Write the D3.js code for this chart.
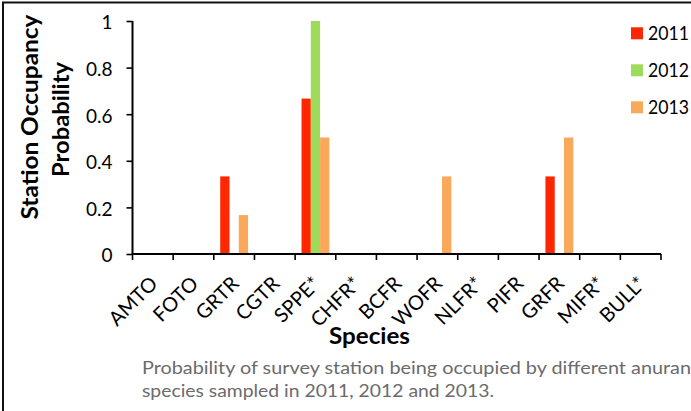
<!DOCTYPE html>
<html>
<head>
<meta charset="utf-8">
<script src="https://cdn.jsdelivr.net/npm/d3@7"></script>
<style>
  body { margin: 0; background: #fff; }
  svg { display: block; font-family: Lato, "Open Sans", sans-serif; }
</style>
</head>
<body>
<div id="chart"></div>
<script>
// data
const species = ["AMTO", "FOTO", "GRTR", "CGTR", "SPPE*", "CHFR*", "BCFR", "WOFR", "NLFR*", "PIFR", "GRFR", "MIFR*", "BULL*"];
const years = ["2011", "2012", "2013"];
const occ2011 = [0, 0, 0.333, 0, 0.667, 0, 0, 0, 0, 0, 0.333, 0, 0];
const occ2012 = [0, 0, 0, 0, 1, 0, 0, 0, 0, 0, 0, 0, 0];
const occ2013 = [0, 0, 0.167, 0, 0.5, 0, 0, 0.333, 0, 0, 0.5, 0, 0];
const yTicks = [0, 0.2, 0.4, 0.6, 0.8, 1];
const captionLines = [
  "Probability of survey station being occupied by different anuran",
  "species sampled in 2011, 2012 and 2013."
];

const series = [occ2011, occ2012, occ2013];
const colors = ["#FF2600", "#9FDB5B", "#FAA85A"];

const width = 691, height = 411;
const marginLeft = 132.5, marginRight = 30, marginTop = 21, axisY = 254;

const svg = d3.select("#chart").append("svg")
  .attr("width", width)
  .attr("height", height);

// frame around the figure
svg.append("rect")
  .attr("x", 3).attr("y", 2.5)
  .attr("width", width + 20).attr("height", height + 20)
  .attr("fill", "none")
  .attr("stroke", "#111")
  .attr("stroke-width", 2);

const x = d3.scaleBand()
  .domain(species)
  .range([marginLeft, width - marginRight]);

const xYear = d3.scaleBand()
  .domain(years)
  .range([0, x.bandwidth()])
  .paddingOuter(0.69);

const y = d3.scaleLinear()
  .domain([0, 1])
  .range([axisY, marginTop]);

// bars
svg.append("g")
  .selectAll("g")
  .data(series)
  .join("g")
    .attr("fill", (d, i) => colors[i])
    .attr("transform", (d, i) => `translate(${xYear(years[i])},0)`)
  .selectAll("rect")
  .data(d => d.map((v, j) => ({ sp: species[j], v })))
  .join("rect")
    .attr("x", d => x(d.sp))
    .attr("y", d => y(d.v))
    .attr("width", xYear.bandwidth())
    .attr("height", d => y(0) - y(d.v));

// y axis
const yAxis = svg.append("g")
  .attr("transform", `translate(${marginLeft},0)`)
  .call(d3.axisLeft(y).tickValues(yTicks).tickFormat(d3.format("")).tickSize(6).tickPadding(14));
yAxis.select(".domain").attr("stroke", "#000").attr("stroke-width", 2).attr("d", `M0,${axisY}V${marginTop}`);
yAxis.selectAll(".tick line").attr("stroke-width", 1.6);
yAxis.selectAll(".tick text")
  .attr("font-size", 19)
  .attr("font-family", "Lato, sans-serif")
  .attr("fill", "#000")
  .attr("dy", "0.42em");

// x axis with ticks at category boundaries
const xAxis = svg.append("g")
  .attr("transform", `translate(0,${axisY})`);
xAxis.append("path")
  .attr("d", `M${marginLeft},0H${width - marginRight}`)
  .attr("stroke", "#000")
  .attr("stroke-width", 2);
const bounds = species.map(s => x(s)).concat([x.range()[1]]);
xAxis.selectAll("line")
  .data(bounds)
  .join("line")
    .attr("x1", d => d).attr("x2", d => d)
    .attr("y1", 0).attr("y2", 6)
    .attr("stroke", "#000")
    .attr("stroke-width", 1.6);
xAxis.selectAll("text")
  .data(species)
  .join("text")
    .attr("transform", d => `translate(${x(d) + x.bandwidth() / 2 + 6},31) rotate(-45)`)
    .attr("text-anchor", "end")
    .attr("font-size", 20)
    .attr("fill", "#000")
    .text(d => d);

// axis titles
svg.append("text")
  .attr("transform", "translate(38,117) rotate(-90)")
  .attr("text-anchor", "middle")
  .attr("font-weight", "bold")
  .attr("font-size", 23)
  .attr("textLength", 205)
  .attr("lengthAdjust", "spacingAndGlyphs")
  .text("Station Occupancy");
svg.append("text")
  .attr("transform", "translate(69,119.5) rotate(-90)")
  .attr("text-anchor", "middle")
  .attr("font-weight", "bold")
  .attr("font-size", 23)
  .attr("textLength", 115)
  .attr("lengthAdjust", "spacingAndGlyphs")
  .text("Probability");
svg.append("text")
  .attr("x", 369.5).attr("y", 344)
  .attr("text-anchor", "middle")
  .attr("font-weight", "bold")
  .attr("font-size", 23)
  .attr("textLength", 81)
  .attr("lengthAdjust", "spacingAndGlyphs")
  .text("Species");

// legend
const legend = svg.append("g")
  .selectAll("g")
  .data(years)
  .join("g")
    .attr("transform", (d, i) => `translate(631,${33.3 + i * 37})`);
legend.append("rect")
  .attr("x", 0).attr("y", -6)
  .attr("width", 12).attr("height", 12)
  .attr("fill", (d, i) => colors[i]);
legend.append("text")
  .attr("x", 17).attr("dy", "0.36em")
  .attr("font-size", 19)
  .attr("textLength", 41)
  .attr("lengthAdjust", "spacingAndGlyphs")
  .text(d => d);

// caption
svg.append("g")
  .selectAll("text")
  .data(captionLines)
  .join("text")
    .attr("x", 142)
    .attr("y", (d, i) => 374 + i * 22.7)
    .attr("font-size", 17.5)
    .attr("fill", "#6b6b6b")
    .attr("textLength", (d, i) => i === 0 ? 549 : 352)
    .attr("lengthAdjust", "spacingAndGlyphs")
    .text(d => d);
</script>
</body>
</html>
